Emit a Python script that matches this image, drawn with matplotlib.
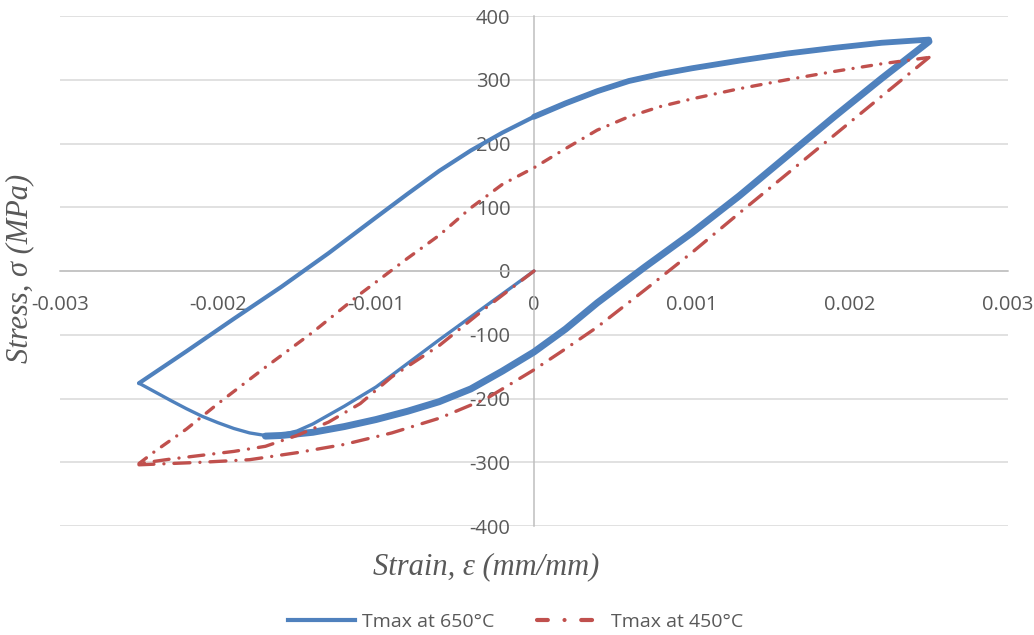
import matplotlib
matplotlib.use("Agg")
import matplotlib.pyplot as plt
from matplotlib.lines import Line2D

# Tmax at 650°C (strain, stress in MPa)
load_650_x = [0, -0.0002, -0.0004, -0.0006, -0.0008, -0.0010, -0.0012, -0.0013, -0.0014,
              -0.0015, -0.0016, -0.0017, -0.0018, -0.0019, -0.0020, -0.0021, -0.0022,
              -0.0023, -0.0025]
load_650_y = [0, -36, -72, -108, -145, -182, -212, -226, -240,
              -251, -257, -258, -254, -247, -238, -228, -216,
              -203, -176]
upper_650_x = [-0.0025, -0.0022, -0.0019, -0.0016, -0.0013, -0.0010, -0.0008, -0.0006,
               -0.0004, -0.0002, 0, 0.0002, 0.0004, 0.0006, 0.0008, 0.0010, 0.0013,
               0.0016, 0.0019, 0.0022, 0.0025]
upper_650_y = [-176, -126, -75, -25, 28, 84, 121, 157,
               189, 217, 242, 263, 282, 298, 309, 318, 330,
               341, 350, 358, 363]
lower_650_x = [0.0025, 0.0022, 0.0019, 0.0016, 0.0013, 0.0010, 0.0007, 0.0004, 0.0002, 0,
               -0.0002, -0.0004, -0.0006, -0.0008, -0.0010, -0.0012, -0.0014, -0.0016,
               -0.0017]
lower_650_y = [360, 302, 242, 180, 118, 60, 6, -50, -91, -127,
               -157, -185, -205, -220, -233, -244, -253, -258,
               -259]

# Tmax at 450°C
load_450_x = [0, -0.0003, -0.0006, -0.0009, -0.0011, -0.0013, -0.0015, -0.0017, -0.0019,
              -0.0021, -0.0023, -0.0025]
load_450_y = [0, -57, -117, -166, -208, -237, -258, -275, -283, -289, -295, -302]
upper_450_x = [-0.0025, -0.0024, -0.0022, -0.0020, -0.0017, -0.0014, -0.0011, -0.0008,
               -0.0006, -0.0004, -0.0002, 0, 0.0002, 0.0004, 0.0006, 0.0008, 0.0010,
               0.0013, 0.0016, 0.0019, 0.0022, 0.0025]
upper_450_y = [-302, -283, -248, -208, -151, -96, -36, 20,
               56, 99, 136, 162, 192, 221, 242, 258, 270,
               286, 300, 313, 325, 335]
lower_450_x = [0.0025, 0.0022, 0.0019, 0.0016, 0.0013, 0.0010, 0.0007, 0.0004, 0.0002, 0,
               -0.0003, -0.0006, -0.0009, -0.0012, -0.0015, -0.0018, -0.0021, -0.0025]
lower_450_y = [335, 274, 213, 152, 91, 29, -30, -88, -122, -155,
               -200, -231, -254, -272, -285, -296, -300, -304]

xticks = [-0.003, -0.002, -0.001, 0, 0.001, 0.002, 0.003]
xlabels = ["-0.003", "-0.002", "-0.001", "0", "0.001", "0.002", "0.003"]
yticks = [-400, -300, -200, -100, 0, 100, 200, 300, 400]

blue = "#4f81bd"
red = "#c0504d"
grey = "#595959"

plt.rcParams["font.family"] = ["Open Sans", "DejaVu Sans"]

fig = plt.figure(figsize=(10.34, 6.35), dpi=100)
ax = fig.add_axes([60 / 1034, 1 - 526 / 635, 948 / 1034, 510 / 635])

# blue: thin first loading, upper branch (doubled on the right), thick lower branch
ax.plot(load_650_x, load_650_y, color=blue, lw=2.4, solid_joinstyle="round",
        solid_capstyle="round", zorder=3)
ax.plot(upper_650_x, upper_650_y, color=blue, lw=3.0, solid_joinstyle="round",
        solid_capstyle="round", zorder=3)
ax.plot(upper_650_x[10:], upper_650_y[10:], color=blue, lw=4.2, solid_joinstyle="round",
        solid_capstyle="round", zorder=3)
ax.plot(lower_650_x, lower_650_y, color=blue, lw=5.0, solid_joinstyle="round",
        solid_capstyle="round", zorder=3)

# red
ax.plot(load_450_x, load_450_y, color=red, lw=2.4, dashes=(4.5, 3.0, 0.01, 3.0),
        dash_capstyle="round", dash_joinstyle="round", zorder=4)
ax.plot(upper_450_x, upper_450_y, color=red, lw=2.4, dashes=(2.8, 2.8, 0.01, 2.8),
        dash_capstyle="round", dash_joinstyle="round", zorder=4)
ax.plot(lower_450_x, lower_450_y, color=red, lw=2.4, dashes=(4.8, 3.0, 0.01, 3.0),
        dash_capstyle="round", dash_joinstyle="round", zorder=4)

ax.set_xlim(-0.003, 0.003)
ax.set_ylim(-400, 400)
ax.set_xticks(xticks)
ax.set_xticklabels(xlabels)
ax.set_yticks(yticks)
ax.set_yticklabels([str(v) for v in yticks])

ax.spines["left"].set_position(("data", 0))
ax.spines["bottom"].set_position(("data", 0))
ax.spines["top"].set_visible(False)
ax.spines["right"].set_visible(False)
for s in ["left", "bottom"]:
    ax.spines[s].set_color("#bfbfbf")
    ax.spines[s].set_linewidth(1.1)
    ax.spines[s].set_zorder(1)

ax.set_axisbelow(True)
ax.yaxis.grid(True, color="#d9d9d9", lw=1.1)
ax.tick_params(axis="x", length=0, pad=17, labelsize=14.5, labelcolor=grey)
ax.tick_params(axis="y", length=0, pad=17, labelsize=14.5, labelcolor=grey)

fig.text(486 / 1034, 1 - 567 / 635, "Strain, \u03b5 (mm/mm)", ha="center", va="center",
         fontsize=22, style="italic", family="Liberation Serif", color=grey)
fig.text(20 / 1034, 1 - 268 / 635, "Stress, \u03c3 (MPa)", ha="center", va="center",
         rotation=90, fontsize=22, style="italic", family="Liberation Serif", color=grey)

handles = [Line2D([], [], color=blue, lw=3.0),
           Line2D([], [], color=red, lw=3.0, dashes=(2.6, 4.0, 0.01, 4.0),
                  dash_capstyle="round")]
fig.legend(handles, ["Tmax at 650°C", "Tmax at 450°C"], loc="center",
           bbox_to_anchor=(516 / 1034, 1 - 622 / 635), ncol=2, frameon=False,
           fontsize=14, labelcolor=grey, handlelength=3.4, columnspacing=2.2,
           handletextpad=0.4)

fig.savefig("out.png", dpi=100)
